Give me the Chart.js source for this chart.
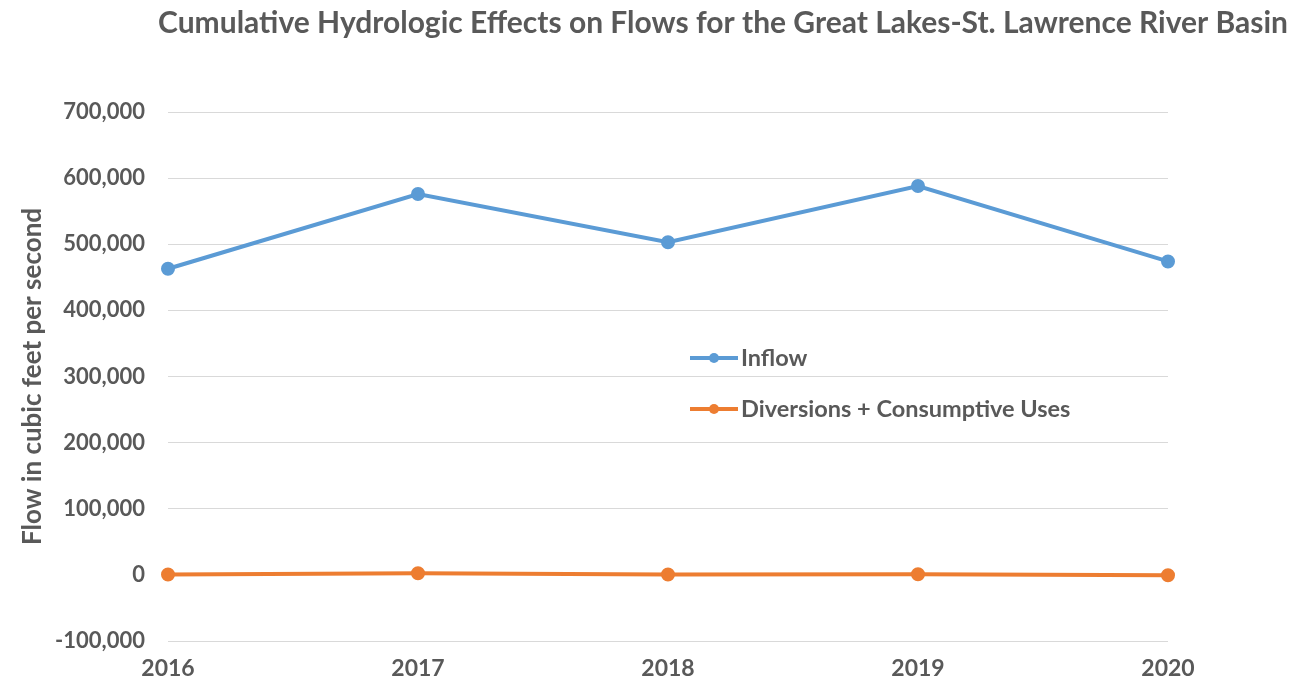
<!DOCTYPE html>
<html>
<head>
<meta charset="utf-8">
<title>Cumulative Hydrologic Effects on Flows</title>
<script src="https://cdn.jsdelivr.net/npm/chart.js@4"></script>
<style>
  html, body { margin: 0; padding: 0; background: #fff; }
  #wrap { width: 1305px; height: 687px; position: relative; }
</style>
</head>
<body>
<div id="wrap"><canvas id="flowChart"></canvas></div>
<script>
// Data
const years = ['2016', '2017', '2018', '2019', '2020'];
const inflow = [463000, 576000, 503000, 588000, 474000];
const diversions = [500, 2500, 500, 1000, -500];
const yTickValues = [-100000, 0, 100000, 200000, 300000, 400000, 500000, 600000, 700000];

const titleText = 'Cumulative Hydrologic Effects on Flows for the Great Lakes-St. Lawrence River Basin';
const gray = '#595959';
const fontFamily = 'Lato, "Open Sans", sans-serif';

// Title drawn at its own spot (it sits right of center in the original)
const titlePlugin = {
    id: 'offsetTitle',
    afterDraw(chart) {
        const ctx = chart.ctx;
        ctx.save();
        ctx.font = 'bold 30px ' + fontFamily;
        ctx.fillStyle = gray;
        ctx.textAlign = 'center';
        ctx.textBaseline = 'middle';
        ctx.fillText(titleText, 723, 23);
        ctx.restore();
    }
};

// Legend inside the plot area, one item per row
const legendPlugin = {
    id: 'innerLegend',
    afterDraw(chart) {
        const ctx = chart.ctx;
        ctx.save();
        ctx.font = 'bold 23.5px ' + fontFamily;
        ctx.textBaseline = 'middle';
        chart.data.datasets.forEach(function(ds, i) {
            const y = 358 + i * 51;
            ctx.strokeStyle = ds.borderColor;
            ctx.lineWidth = 4;
            ctx.beginPath();
            ctx.moveTo(690, y);
            ctx.lineTo(738, y);
            ctx.stroke();
            ctx.fillStyle = ds.borderColor;
            ctx.beginPath();
            ctx.arc(714, y, 5, 0, Math.PI * 2);
            ctx.fill();
            ctx.fillStyle = gray;
            ctx.fillText(ds.label, 741, y);
        });
        ctx.restore();
    }
};

var ctx = document.getElementById('flowChart').getContext('2d');
var flowChart = new Chart(ctx, {
    type: 'line',
    data: {
        labels: years,
        datasets: [{
            label: 'Inflow',
            data: inflow,
            borderColor: '#5B9BD5',
            backgroundColor: '#5B9BD5',
            borderWidth: 4,
            pointRadius: 5,
            pointHoverRadius: 5,
            fill: false
        }, {
            label: 'Diversions + Consumptive Uses',
            data: diversions,
            borderColor: '#ED7D31',
            backgroundColor: '#ED7D31',
            borderWidth: 4,
            pointRadius: 5,
            pointHoverRadius: 5,
            fill: false
        }]
    },
    options: {
        responsive: true,
        maintainAspectRatio: false,
        animation: false,
        layout: {
            padding: { top: 112, right: 137, bottom: 0, left: 0 }
        },
        plugins: {
            legend: { display: false },
            title: { display: false },
            tooltip: { enabled: false }
        },
        scales: {
            x: {
                offset: false,
                grid: { display: false, drawTicks: false },
                border: { display: false },
                ticks: {
                    color: gray,
                    padding: 14,
                    maxRotation: 0,
                    font: { family: fontFamily, size: 23, weight: 'bold' }
                },
                afterFit: function(scale) { scale.height = 46; }
            },
            y: {
                min: -100000,
                max: 700000,
                afterBuildTicks: function(scale) {
                    scale.ticks = yTickValues.map(v => ({ value: v }));
                },
                grid: { color: '#D9D9D9', lineWidth: 1, drawTicks: false },
                border: { display: false },
                ticks: {
                    color: gray,
                    padding: 23,
                    font: { family: fontFamily, size: 22, weight: 'bold' },
                    callback: function(v) { return Number(v).toLocaleString('en-US'); }
                },
                title: {
                    display: true,
                    text: 'Flow in cubic feet per second',
                    color: gray,
                    padding: { top: 17, bottom: 0 },
                    font: { family: fontFamily, size: 26, weight: 'bold' }
                },
                afterFit: function(scale) { scale.width = 168; }
            }
        }
    },
    plugins: [titlePlugin, legendPlugin]
});
</script>
</body>
</html>
